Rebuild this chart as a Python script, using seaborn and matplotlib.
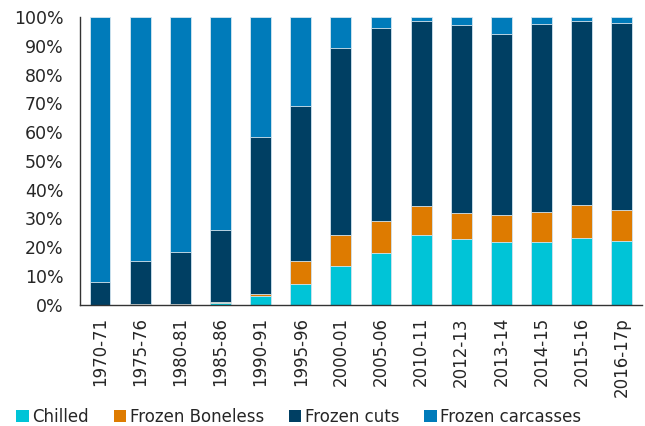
import numpy as np
import pandas as pd
import matplotlib
matplotlib.use('Agg')
import matplotlib.pyplot as plt
import seaborn as sns
from matplotlib.patches import Patch
from matplotlib.ticker import FuncFormatter, MultipleLocator

# shares of each product type, % of total
years = ['1970-71', '1975-76', '1980-81', '1985-86', '1990-91', '1995-96', '2000-01',
         '2005-06', '2010-11', '2012-13', '2013-14', '2014-15', '2015-16', '2016-17p']
chilled = [0.0, 0.0, 0.0, 0.5, 2.9, 7.0, 13.3, 18.0, 24.3, 22.9, 21.9, 21.6, 23.3, 22.1]
frozen_boneless = [0.0, 0.3, 0.3, 0.4, 0.7, 8.1, 10.8, 11.1, 9.9, 8.9, 9.2, 10.6, 11.2, 10.7]
frozen_cuts = [7.8, 14.9, 17.9, 25.2, 54.8, 54.1, 65.2, 67.1, 64.3, 65.3, 63.1, 65.3, 64.0, 65.2]

labels = ['Chilled', 'Frozen Boneless', 'Frozen cuts', 'Frozen carcasses']
colors = ['#00c4d7', '#de7b00', '#003f63', '#007bba']

df = pd.DataFrame({'year': years, 'chilled': chilled,
                   'boneless': frozen_boneless, 'cuts': frozen_cuts})
df['carcasses'] = 100 - df['chilled'] - df['boneless'] - df['cuts']

# cumulative heights, drawn from the tallest layer down
df['lvl1'] = df['chilled']
df['lvl2'] = df['lvl1'] + df['boneless']
df['lvl3'] = df['lvl2'] + df['cuts']
df['lvl4'] = df['lvl3'] + df['carcasses']

sns.set_style('white')
plt.rcParams['font.family'] = ['DejaVu Sans']

fig, ax = plt.subplots(figsize=(6.45, 4.26), dpi=100)
fig.subplots_adjust(left=0.124, right=0.995, top=0.96, bottom=0.285)

for col, c in zip(['lvl4', 'lvl3', 'lvl2', 'lvl1'], colors[::-1]):
    sns.barplot(data=df, x='year', y=col, color=c, width=0.52, ax=ax,
                edgecolor='#d6e6f0', linewidth=0.6, saturation=1)

ax.set_ylim(0, 100)
ax.set_xlim(-0.5, len(years) - 0.5)
ax.yaxis.set_major_locator(MultipleLocator(10))
ax.yaxis.set_major_formatter(FuncFormatter(lambda v, p: f'{v:.0f}%'))
ax.set_xlabel('')
ax.set_ylabel('')

# category ticks at the borders between bars, labels in the middle
ax.set_xticks(np.arange(len(years)))
ax.set_xticklabels(years, rotation=90, fontsize=12)
ax.set_xticks(np.arange(len(years) + 1) - 0.5, minor=True)
ax.tick_params(axis='x', which='major', length=0, pad=9)
ax.tick_params(axis='x', which='minor', length=6, width=1, color='#333333', direction='out')
ax.tick_params(axis='y', length=5, width=1, color='#333333', direction='out', labelsize=12.5, pad=7)

sns.despine(ax=ax)
for side in ['left', 'bottom']:
    ax.spines[side].set_color('#333333')
    ax.spines[side].set_linewidth(1)

handles = [Patch(facecolor=c, edgecolor='none') for c in colors]
fig.legend(handles, labels, loc='lower center', bbox_to_anchor=(0.463, -0.035), ncol=4,
           frameon=False, fontsize=12, handlelength=0.75, handleheight=0.75,
           handletextpad=0.2, columnspacing=1.5)

fig.savefig('out.png', dpi=100)
